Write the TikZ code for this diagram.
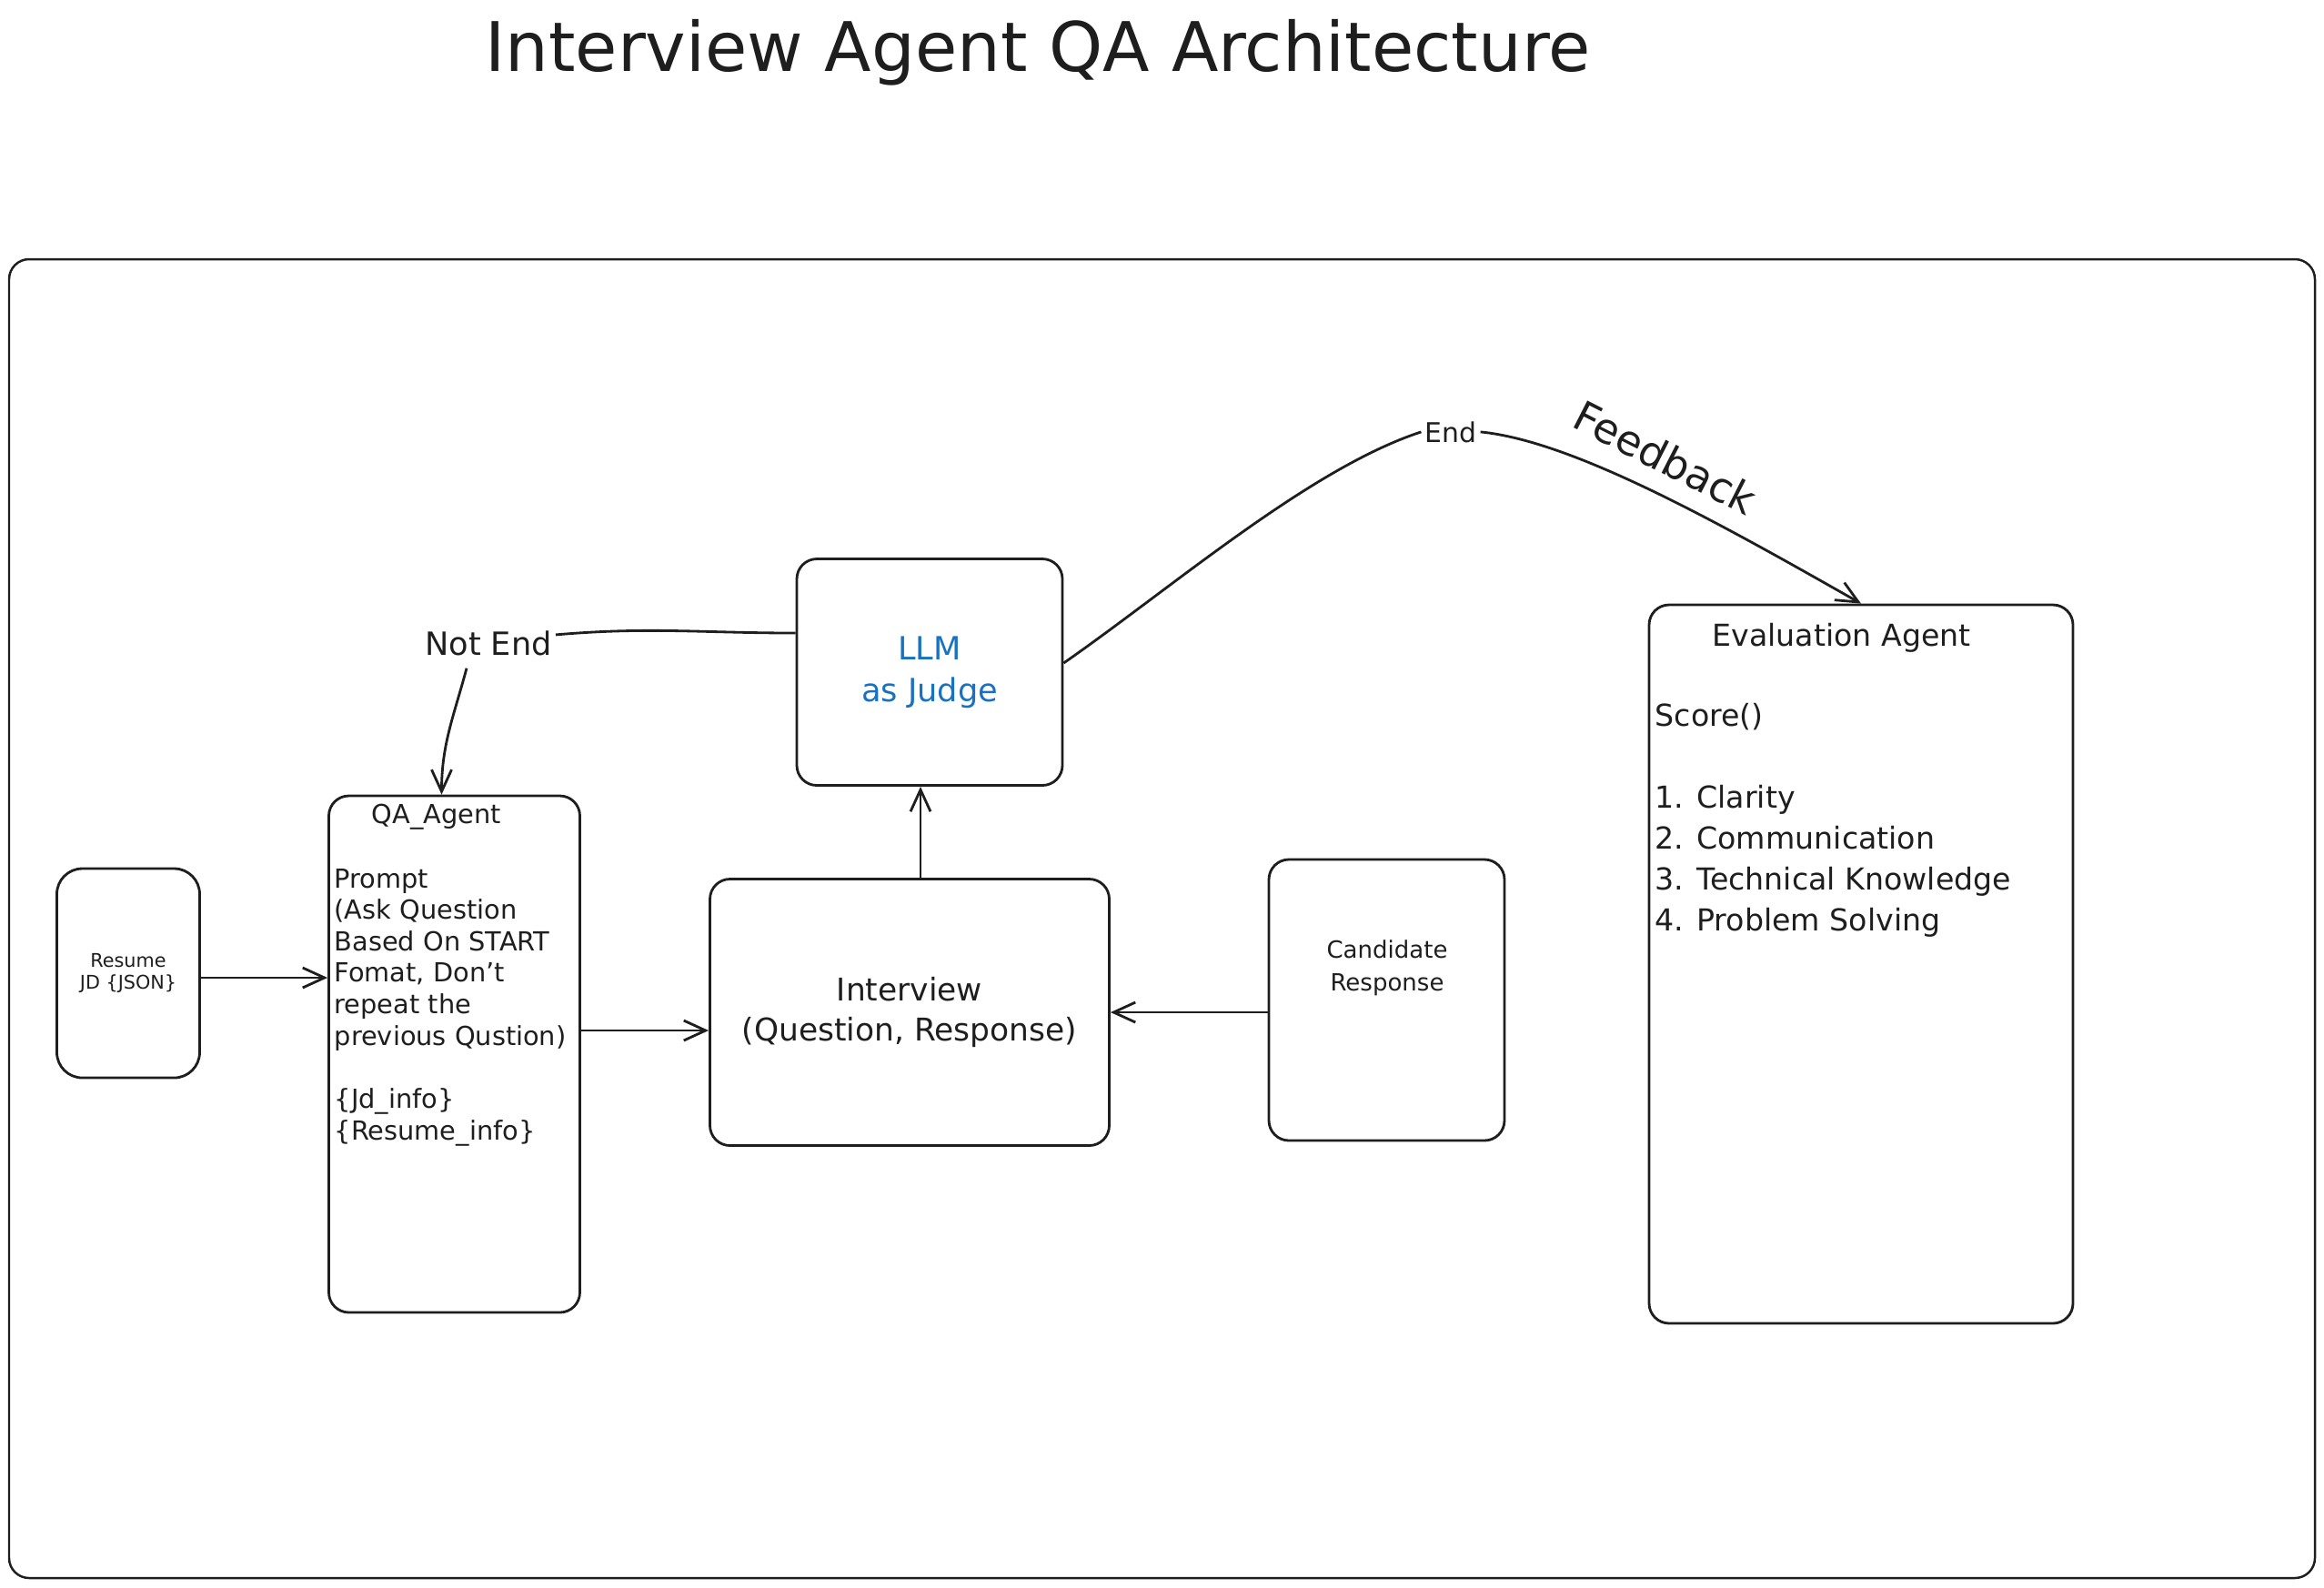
\documentclass[tikz,border=0pt]{standalone}
\usepackage{fontspec}
\setmainfont{DejaVu Sans}
\usepackage{tikz}
\usetikzlibrary{arrows.meta}
\usepackage{xcolor}

\definecolor{ink}{HTML}{1E1E1E}
\definecolor{judgeblue}{HTML}{1971C2}

\newcommand{\titlefont}{\fontsize{21.4}{25}\selectfont}
\newcommand{\tinyfont}{\fontsize{5.9}{6.7}\selectfont}
\newcommand{\qafont}{\fontsize{8.2}{9.85}\selectfont}
\newcommand{\candfont}{\fontsize{7.4}{10}\selectfont}
\newcommand{\midfont}{\fontsize{9.8}{12.7}\selectfont}
\newcommand{\judgefont}{\fontsize{10}{13}\selectfont}
\newcommand{\evalfont}{\fontsize{9.45}{12.8}\selectfont}

\tikzset{
  box/.style={draw=ink, line width=0.8pt, rounded corners=0.22cm, inner sep=0pt},
  txt/.style={inner sep=0pt, text=ink},
  link/.style={draw=ink, line width=0.8pt},
  flow/.style={link, -{Straight Barb[length=2.4mm,width=2.2mm]}},
}

\begin{document}
\begin{tikzpicture}
            \useasboundingbox (0,0) rectangle (25.550,-17.450);

            \node[txt, anchor=base, font=\titlefont] (title) at (11.410, -0.780) {Interview Agent QA Architecture};
            \node[box, line width=0.7pt, minimum width=25.350cm, minimum height=14.500cm] (frame) at (12.775, -10.100) {};

            % boxes and their texts (multi-line texts sit on their last baseline)
            \node[box, rounded corners=0.28cm, minimum width=1.570cm, minimum height=2.300cm, align=center, font=\tinyfont, text=ink] (resume) at (1.410, -10.700) {Resume\\JD \{JSON\}};
            \node[box, minimum width=2.760cm, minimum height=5.680cm] (qa) at (4.995, -11.590) {};
            \node[txt, anchor=base, font=\qafont] (qatitle) at (4.800, -9.050) {QA\_Agent};
            \node[txt, anchor=base west, align=left, font=\qafont] (qabody) at (3.670, -12.530) {Prompt\\(Ask Question\\Based On START\\Fomat, Don't\\repeat the\\previous Qustion)\\[9.85pt]\{Jd\_info\}\\\{Resume\_info\}};

            \node[box, minimum width=2.920cm, minimum height=2.490cm, align=center, font=\judgefont, text=judgeblue] (judge) at (10.220, -7.390) {LLM\\as Judge};
            \node[box, minimum width=4.390cm, minimum height=2.930cm, align=center, font=\midfont, text=ink] (interview) at (10.000, -11.130) {Interview\\(Question, Response)};
            \node[box, minimum width=2.590cm, minimum height=3.090cm] (cand) at (15.245, -10.995) {};
            \node[txt, anchor=base, align=center, font=\candfont] (candtxt) at (15.250, -10.890) {Candidate\\Response};

            \node[box, minimum width=4.660cm, minimum height=7.900cm] (eval) at (20.460, -10.600) {};
            \node[txt, anchor=base, font=\evalfont] (evaltitle) at (20.245, -7.100) {Evaluation Agent};
            \node[txt, anchor=base west, align=left, font=\evalfont] (evalbody) at (18.190, -10.235) {Score()\\[12.8pt]1. Clarity\\2. Communication\\3. Technical Knowledge\\4. Problem Solving};

            % arrow labels
            \node[txt, inner sep=1pt, anchor=base, font=\fontsize{10}{12}\selectfont] (notend) at (5.370, -7.200) {Not End};
            \node[txt, inner sep=1pt, anchor=base, font=\fontsize{8.5}{10}\selectfont] (endlbl) at (15.950, -4.860) {End};
            \node[txt, rotate=-27, font=\fontsize{13}{15}\selectfont] (feedback) at (18.310, -5.030) {Feedback};

            \draw[flow] ([yshift=-0.5mm]resume.east) -- ([yshift=-0.5mm]resume.east -| qa.west);
            \draw[flow] ([yshift=2.6mm]qa.east) -- ([yshift=2.6mm]qa.east -| interview.west);
            \draw[flow] ([xshift=1.2mm]interview.north) -- ([xshift=1.2mm]interview.north |- judge.south);
            \draw[flow] (cand.west |- interview.east) -- (interview.east);
            \draw[link] ([yshift=4.3mm]judge.west) to[out=180,in=5] ([yshift=0.9mm]notend.east);
            \draw[flow] ([xshift=-2.4mm,yshift=-1mm]notend.south) to[out=-105,in=90] ([xshift=-1.4mm]qa.north);
            \draw[link] ([yshift=1mm]judge.east) .. controls (12.900,-6.450) and (14.400,-5.150) .. (endlbl.west);
            \draw[flow] (endlbl.east) .. controls (17.300,-4.850) and (18.900,-5.750) .. (eval.north);
        \end{tikzpicture}
\end{document}
